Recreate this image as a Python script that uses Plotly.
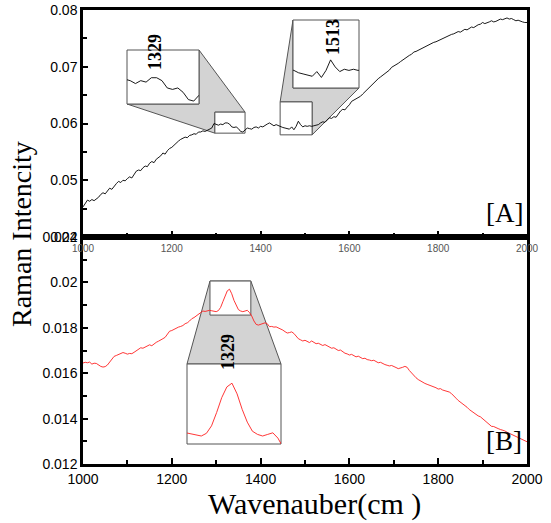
import plotly.graph_objects as go

# ---------------- data ----------------
wavenumber = list(range(1000, 2001, 5))

spectrum_A = [
    0.0453, 0.0458, 0.0465, 0.0463, 0.0466, 0.0464, 0.0467, 0.0470, 0.0475, 0.0478,
    0.0476, 0.0482, 0.0486, 0.0484, 0.0490, 0.0494, 0.0498, 0.0496, 0.0500, 0.0499,
    0.0503, 0.0506, 0.0504, 0.0510, 0.0516, 0.0518, 0.0517, 0.0522, 0.0525, 0.0524,
    0.0530, 0.0533, 0.0531, 0.0537, 0.0540, 0.0543, 0.0548, 0.0546, 0.0552, 0.0556,
    0.0558, 0.0562, 0.0566, 0.0569, 0.0572, 0.0574, 0.0576, 0.0575, 0.0579, 0.0580,
    0.0582, 0.0581, 0.0585, 0.0585, 0.0587, 0.0586, 0.0588, 0.0589, 0.0592, 0.0600,
    0.0599, 0.0597, 0.0599, 0.0598, 0.0601, 0.0601, 0.0599, 0.0594, 0.0593, 0.0594,
    0.0591, 0.0586, 0.0585, 0.0589, 0.0592, 0.0591, 0.0590, 0.0593, 0.0594, 0.0592,
    0.0595, 0.0594, 0.0597, 0.0599, 0.0601, 0.0598, 0.0596, 0.0598, 0.0596, 0.0595,
    0.0593, 0.0592, 0.0591, 0.0590, 0.0594, 0.0589, 0.0595, 0.0604, 0.0598, 0.0594,
    0.0596, 0.0595, 0.0596, 0.0595, 0.0596, 0.0597, 0.0598, 0.0601, 0.0603, 0.0602,
    0.0607, 0.0610, 0.0609, 0.0612, 0.0611, 0.0617, 0.0622, 0.0625, 0.0624, 0.0629,
    0.0633, 0.0639, 0.0641, 0.0643, 0.0646, 0.0648, 0.0652, 0.0656, 0.0659, 0.0664,
    0.0668, 0.0672, 0.0676, 0.0679, 0.0682, 0.0685, 0.0689, 0.0691, 0.0694, 0.0699,
    0.0701, 0.0703, 0.0706, 0.0709, 0.0712, 0.0714, 0.0718, 0.0720, 0.0722, 0.0726,
    0.0727, 0.0729, 0.0731, 0.0734, 0.0735, 0.0737, 0.0740, 0.0741, 0.0743, 0.0744,
    0.0746, 0.0748, 0.0749, 0.0752, 0.0754, 0.0755, 0.0757, 0.0758, 0.0760, 0.0762,
    0.0761, 0.0764, 0.0766, 0.0765, 0.0768, 0.0770, 0.0769, 0.0772, 0.0774, 0.0775,
    0.0778, 0.0776, 0.0777, 0.0779, 0.0781, 0.0779, 0.0780, 0.0782, 0.0784, 0.0783,
    0.0785, 0.0786, 0.0784, 0.0785, 0.0783, 0.0781, 0.0782, 0.0780, 0.0779, 0.0778,
    0.0778,
]

spectrum_B = [
    0.01645, 0.01648, 0.01646, 0.01649, 0.01640, 0.01644, 0.01643, 0.01636, 0.01630, 0.01627,
    0.01629, 0.01636, 0.01650, 0.01665, 0.01674, 0.01678, 0.01682, 0.01686, 0.01691, 0.01688,
    0.01684, 0.01687, 0.01686, 0.01692, 0.01698, 0.01705, 0.01712, 0.01710, 0.01716, 0.01722,
    0.01725, 0.01721, 0.01730, 0.01736, 0.01741, 0.01745, 0.01752, 0.01758, 0.01772, 0.01785,
    0.01788, 0.01794, 0.01800, 0.01803, 0.01806, 0.01810, 0.01818, 0.01822, 0.01830, 0.01840,
    0.01845, 0.01852, 0.01858, 0.01866, 0.01874, 0.01872, 0.01876, 0.01877, 0.01875, 0.01872,
    0.01871, 0.01876, 0.01890, 0.01915, 0.01943, 0.01963, 0.01970, 0.01950, 0.01921, 0.01897,
    0.01880, 0.01874, 0.01871, 0.01874, 0.01877, 0.01867, 0.01852, 0.01830, 0.01815, 0.01812,
    0.01816, 0.01820, 0.01822, 0.01818, 0.01805, 0.01806, 0.01803, 0.01804, 0.01800, 0.01795,
    0.01790, 0.01783, 0.01777, 0.01779, 0.01782, 0.01775, 0.01762, 0.01752, 0.01747, 0.01742,
    0.01745, 0.01738, 0.01735, 0.01742, 0.01736, 0.01730, 0.01732, 0.01725, 0.01722, 0.01726,
    0.01720, 0.01716, 0.01710, 0.01712, 0.01705, 0.01700, 0.01702, 0.01694, 0.01688, 0.01685,
    0.01680, 0.01683, 0.01676, 0.01672, 0.01675, 0.01668, 0.01664, 0.01666, 0.01660, 0.01658,
    0.01655, 0.01657, 0.01650, 0.01646, 0.01648, 0.01642, 0.01638, 0.01635, 0.01632, 0.01634,
    0.01628, 0.01625, 0.01620, 0.01622, 0.01626, 0.01630, 0.01626, 0.01612, 0.01600, 0.01592,
    0.01580, 0.01572, 0.01565, 0.01560, 0.01555, 0.01551, 0.01548, 0.01544, 0.01540, 0.01536,
    0.01530, 0.01532, 0.01526, 0.01524, 0.01520, 0.01517, 0.01510, 0.01502, 0.01490, 0.01480,
    0.01473, 0.01466, 0.01458, 0.01450, 0.01440, 0.01432, 0.01424, 0.01418, 0.01412, 0.01408,
    0.01400, 0.01392, 0.01382, 0.01372, 0.01366, 0.01365, 0.01362, 0.01356, 0.01352, 0.01350,
    0.01346, 0.01340, 0.01335, 0.01330, 0.01328, 0.01322, 0.01318, 0.01312, 0.01308, 0.01302,
    0.01298,
]

x_ticks = [1000, 1200, 1400, 1600, 1800, 2000]
peak_labels = ["1329", "1513", "1329"]
panel_labels = ["[A]", "[B]"]

# zoom windows (data ranges) of the insets
zoomA1_x, zoomA1_y = [1297, 1365], [0.0583, 0.0620]
zoomA2_x, zoomA2_y = [1444, 1516], [0.0580, 0.0638]
zoomB_x, zoomB_y = [1286, 1378], [0.01856, 0.02006]

rangeA = [0.04, 0.08]
rangeB = [0.012, 0.022]

# ---------------- layout geometry ----------------
W, H = 551, 523
L, R, T, B = 83, 24, 10, 59
PW, PH = W - L - R, H - T - B


def px(x):
    return (x - L) / PW


def py(y):
    return (H - B - y) / PH


def dxA(v):
    return (v - 1000) / 1000


def dyA(v):
    return 0.5 + 0.5 * (v - rangeA[0]) / (rangeA[1] - rangeA[0])


def dyB(v):
    return 0.5 * (v - rangeB[0]) / (rangeB[1] - rangeB[0])


# big inset boxes (pixel rectangles x0, y0, x1, y1)
bigA1 = (127, 50, 199, 104)
bigA2 = (293, 20, 359, 88)
bigB = (187, 364, 281, 444)

fig = go.Figure()

line_black = dict(color="black", width=0.9)
line_red = dict(color="#ff2020", width=0.9)

fig.add_trace(go.Scatter(x=wavenumber, y=spectrum_B, xaxis="x", yaxis="y",
                         mode="lines", line=line_red, hoverinfo="skip"))
fig.add_trace(go.Scatter(x=wavenumber, y=spectrum_A, xaxis="x2", yaxis="y2",
                         mode="lines", line=line_black, hoverinfo="skip"))
fig.add_trace(go.Scatter(x=wavenumber, y=spectrum_A, xaxis="x3", yaxis="y3",
                         mode="lines", line=line_black, hoverinfo="skip"))
fig.add_trace(go.Scatter(x=wavenumber, y=spectrum_A, xaxis="x4", yaxis="y4",
                         mode="lines", line=line_black, hoverinfo="skip"))
fig.add_trace(go.Scatter(x=wavenumber, y=spectrum_B, xaxis="x5", yaxis="y5",
                         mode="lines", line=line_red, hoverinfo="skip"))

tickfont = dict(family="Liberation Sans, Arial", size=14, color="black")
common_x = dict(range=[1000, 2000], tickvals=x_ticks, ticks="inside", ticklen=6,
                tickwidth=1.5, tickcolor="black", automargin=False,
                minor=dict(dtick=100, ticks="inside", ticklen=4, tickwidth=1.5, tickcolor="black"),
                showline=True, linewidth=2.5, linecolor="black", mirror=True,
                showgrid=False, zeroline=False)
common_y = dict(ticks="inside", ticklen=5, tickwidth=1.5, tickcolor="black", automargin=False,
                showline=True, linewidth=2.5, linecolor="black", mirror=True,
                showgrid=False, zeroline=False, tickfont=tickfont)

inset_ax = dict(visible=False, showgrid=False, zeroline=False, automargin=False)

fig.update_layout(
    width=W, height=H, autosize=False,
    margin=dict(l=L, r=R, t=T, b=B, autoexpand=False),
    paper_bgcolor="white", plot_bgcolor="rgba(0,0,0,0)",
    showlegend=False,
    xaxis=dict(domain=[0, 1], anchor="y", tickfont=tickfont, **common_x),
    yaxis=dict(domain=[0, 0.5], anchor="x", range=rangeB, dtick=0.002, tick0=0.012,
               minor=dict(dtick=0.001, ticks="inside", ticklen=4, tickwidth=1.5, tickcolor="black"),
               **common_y),
    xaxis2=dict(domain=[0, 1], anchor="y2",
                tickfont=dict(family="Liberation Sans, Arial", size=10, color="#555"),
                **common_x),
    yaxis2=dict(domain=[0.5, 1], anchor="x2", range=rangeA, dtick=0.01, tick0=0.04,
                minor=dict(dtick=0.005, ticks="inside", ticklen=4, tickwidth=1.5, tickcolor="black"),
                **common_y),
    xaxis3=dict(domain=[px(bigA1[0]), px(bigA1[2])], anchor="y3", range=zoomA1_x, **inset_ax),
    yaxis3=dict(domain=[py(bigA1[3]), py(bigA1[1])], anchor="x3", range=zoomA1_y, **inset_ax),
    xaxis4=dict(domain=[px(bigA2[0]), px(bigA2[2])], anchor="y4", range=zoomA2_x, **inset_ax),
    yaxis4=dict(domain=[py(bigA2[3]), py(bigA2[1])], anchor="x4", range=zoomA2_y, **inset_ax),
    xaxis5=dict(domain=[px(bigB[0]), px(bigB[2])], anchor="y5", range=zoomB_x, **inset_ax),
    yaxis5=dict(domain=[py(bigB[3]), py(bigB[1])], anchor="x5", range=zoomB_y, **inset_ax),
)

GRAY = "#d3d3d3"
EDGE = "#555555"


def poly(points):
    return "M " + " L ".join(f"{a:.5f},{b:.5f}" for a, b in points) + " Z"


shapes = []


def add_poly(points, fill):
    shapes.append(dict(type="path", xref="paper", yref="paper", path=poly(points),
                       fillcolor=fill, line=dict(color=EDGE, width=1), layer="below"))


def add_rect(x0, y0, x1, y1, fill="rgba(0,0,0,0)"):
    shapes.append(dict(type="rect", xref="paper", yref="paper", x0=x0, y0=y0, x1=x1, y1=y1,
                       fillcolor=fill, line=dict(color=EDGE, width=1), layer="below"))


# --- inset A1 (big box upper-left of small box)
sA1 = (dxA(zoomA1_x[0]), dyA(zoomA1_y[0]), dxA(zoomA1_x[1]), dyA(zoomA1_y[1]))
bA1 = (px(bigA1[0]), py(bigA1[3]), px(bigA1[2]), py(bigA1[1]))
add_poly([(bA1[0], bA1[1]), (sA1[0], sA1[1]), (sA1[0], sA1[3]), (sA1[2], sA1[3]),
          (bA1[2], bA1[3]), (bA1[2], bA1[1])], GRAY)
add_rect(*bA1, fill="white")
add_rect(*sA1, fill="white")

# --- inset A2 (big box upper-right of small box)
sA2 = (dxA(zoomA2_x[0]), dyA(zoomA2_y[0]), dxA(zoomA2_x[1]), dyA(zoomA2_y[1]))
bA2 = (px(bigA2[0]), py(bigA2[3]), px(bigA2[2]), py(bigA2[1]))
add_poly([(bA2[0], bA2[3]), (bA2[0], bA2[1]), (bA2[2], bA2[1]), (sA2[2], sA2[1]),
          (sA2[2], sA2[3]), (sA2[0], sA2[3])], GRAY)
add_rect(*bA2, fill="white")
add_rect(*sA2, fill="white")

# --- inset B (big box below small box)
sB = (dxA(zoomB_x[0]), dyB(zoomB_y[0]), dxA(zoomB_x[1]), dyB(zoomB_y[1]))
bB = (px(bigB[0]), py(bigB[3]), px(bigB[2]), py(bigB[1]))
add_poly([(sB[0], sB[3]), (sB[2], sB[3]), (bB[2], bB[3]), (bB[0], bB[3])], GRAY)
add_rect(*bB, fill="white")
add_rect(*sB, fill="white")

fig.update_layout(shapes=shapes)

serif = "Liberation Serif, Times New Roman"
ann = [
    dict(text="Raman Intencity", x=px(22), y=py(234), textangle=-90,
         font=dict(family=serif, size=28, color="black")),
    dict(text="Wavenauber(cm )", x=px(314), y=py(504),
         font=dict(family=serif, size=30, color="black")),
    dict(text=panel_labels[0], x=px(504), y=py(213),
         font=dict(family=serif, size=27, color="black")),
    dict(text=panel_labels[1], x=px(504), y=py(441),
         font=dict(family=serif, size=27, color="black")),
    dict(text=f"<b>{peak_labels[0]}</b>", x=px(155), y=py(52), textangle=-90,
         font=dict(family=serif, size=18, color="black")),
    dict(text=f"<b>{peak_labels[1]}</b>", x=px(333), y=py(37), textangle=-90,
         font=dict(family=serif, size=18, color="black")),
    dict(text=f"<b>{peak_labels[2]}</b>", x=px(228), y=py(352), textangle=-90,
         font=dict(family=serif, size=18, color="black")),
]
for a in ann:
    a.update(xref="paper", yref="paper", showarrow=False, xanchor="center", yanchor="middle")
fig.update_layout(annotations=ann)

fig.write_html("out.html", config={"displayModeBar": False},
               post_script="document.body.style.margin='0';document.body.style.overflow='hidden';")
